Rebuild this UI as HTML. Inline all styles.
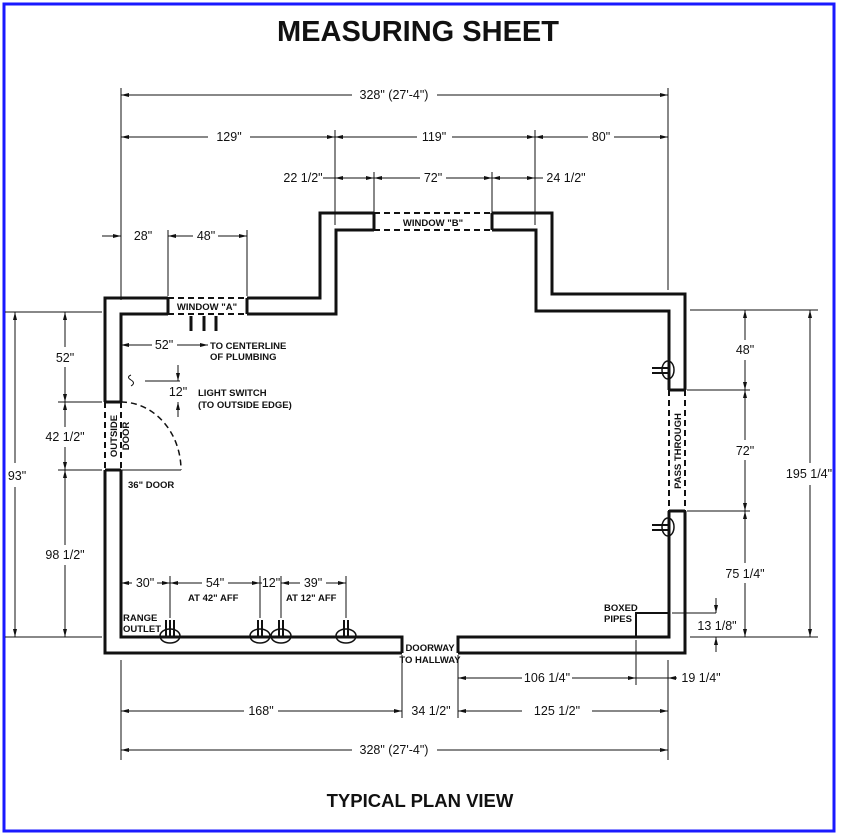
<!DOCTYPE html>
<html><head><style>
html,body{margin:0;padding:0;background:#fff;}
svg{display:block;}
text{font-family:"Liberation Sans",sans-serif;fill:#111;}
</style></head><body>
<svg width="844" height="837" viewBox="0 0 844 837" xmlns="http://www.w3.org/2000/svg">
<defs>
<marker id="a" markerWidth="8" markerHeight="6" refX="8" refY="3" orient="auto-start-reverse" markerUnits="userSpaceOnUse"><path d="M0,1 L8,3 L0,5 z" fill="#111"/></marker>
</defs>
<rect x="4" y="4" width="830" height="827" fill="none" stroke="#1a1aff" stroke-width="3"/>
<text x="418" y="41" font-size="29" font-weight="bold" text-anchor="middle">MEASURING SHEET</text>
<text x="420" y="807" font-size="18.5" font-weight="bold" text-anchor="middle">TYPICAL PLAN VIEW</text>

<g stroke="#111" stroke-width="3" fill="none">
<polyline points="168,298 105,298 105,402"/>
<polyline points="105,470 105,653 402,653"/>
<polyline points="247,298 320,298 320,213 374,213"/>
<polyline points="492,213 552,213 552,294 685,294 685,390"/>
<polyline points="685,511 685,653 458,653"/>
<polyline points="168,314 121,314 121,402"/>
<polyline points="121,470 121,637 402,637 402,653"/>
<polyline points="247,314 336,314 336,230 374,230"/>
<polyline points="492,230 536,230 536,311 669,311 669,390"/>
<polyline points="669,511 669,637 458,637 458,653"/>
<line x1="168" y1="298" x2="168" y2="314"/><line x1="247" y1="298" x2="247" y2="314"/>
<line x1="374" y1="213" x2="374" y2="230"/><line x1="492" y1="213" x2="492" y2="230"/>
<line x1="105" y1="402" x2="121" y2="402"/><line x1="105" y1="470" x2="121" y2="470"/>
<line x1="669" y1="390" x2="685" y2="390"/><line x1="669" y1="511" x2="685" y2="511"/>
</g>
<g stroke="#111" stroke-width="2" fill="none" stroke-dasharray="6,4">
<line x1="168" y1="298" x2="247" y2="298"/><line x1="168" y1="314" x2="247" y2="314"/>
<line x1="374" y1="213" x2="492" y2="213"/><line x1="374" y1="230" x2="492" y2="230"/>
<line x1="105" y1="402" x2="105" y2="470"/><line x1="121" y1="402" x2="121" y2="470"/>
<line x1="669" y1="390" x2="669" y2="511"/><line x1="685" y1="390" x2="685" y2="511"/>
<path d="M121,402 A60,68 0 0 1 181,470" stroke-width="1.5"/>
</g>
<line x1="121" y1="470" x2="181" y2="470" stroke="#111" stroke-width="1"/>
<polyline points="636,637 636,613 669,613" stroke="#111" stroke-width="2" fill="none"/>

<g stroke="#111" stroke-width="3">
<line x1="191" y1="316" x2="191" y2="331"/><line x1="204" y1="316" x2="204" y2="331"/><line x1="216" y1="316" x2="216" y2="331"/>
</g>
<g stroke="#111" stroke-width="1.5" fill="none">
<ellipse cx="170" cy="636" rx="10" ry="7"/><ellipse cx="260" cy="636" rx="10" ry="7"/><ellipse cx="281" cy="636" rx="10" ry="7"/><ellipse cx="346" cy="636" rx="10" ry="7"/>
<ellipse cx="668" cy="370" rx="6" ry="9"/><ellipse cx="668" cy="527" rx="6" ry="9"/>
</g>
<g stroke="#111" stroke-width="2">
<line x1="166" y1="620" x2="166" y2="638"/><line x1="170" y1="620" x2="170" y2="638"/><line x1="174" y1="620" x2="174" y2="638"/>
<line x1="258" y1="620" x2="258" y2="638"/><line x1="262" y1="620" x2="262" y2="638"/>
<line x1="279" y1="620" x2="279" y2="638"/><line x1="283" y1="620" x2="283" y2="638"/>
<line x1="344" y1="620" x2="344" y2="638"/><line x1="348" y1="620" x2="348" y2="638"/>
<line x1="652" y1="368" x2="669" y2="368"/><line x1="652" y1="373" x2="669" y2="373"/>
<line x1="652" y1="525" x2="669" y2="525"/><line x1="652" y1="530" x2="669" y2="530"/>
</g>

<g stroke="#111" stroke-width="1" fill="none">
<line x1="121" y1="88" x2="121" y2="300"/><line x1="668" y1="88" x2="668" y2="290"/>
<line x1="335" y1="130" x2="335" y2="225"/><line x1="535" y1="130" x2="535" y2="225"/>
<line x1="374" y1="172" x2="374" y2="228"/><line x1="492" y1="172" x2="492" y2="228"/>
<line x1="168" y1="230" x2="168" y2="296"/><line x1="247" y1="230" x2="247" y2="296"/>
<line x1="121" y1="660" x2="121" y2="760"/><line x1="668" y1="660" x2="668" y2="760"/>
<line x1="402" y1="655" x2="402" y2="718"/><line x1="458" y1="655" x2="458" y2="718"/>
<line x1="636" y1="640" x2="636" y2="685"/>
<line x1="5" y1="312" x2="102" y2="312"/><line x1="5" y1="637" x2="102" y2="637"/>
<line x1="58" y1="402" x2="102" y2="402"/><line x1="58" y1="470" x2="102" y2="470"/>
<line x1="690" y1="310" x2="818" y2="310"/><line x1="690" y1="637" x2="818" y2="637"/>
<line x1="687" y1="390" x2="750" y2="390"/><line x1="687" y1="511" x2="750" y2="511"/>
<line x1="672" y1="613" x2="716" y2="613"/>
<line x1="170" y1="576" x2="170" y2="618"/><line x1="260" y1="576" x2="260" y2="618"/><line x1="281" y1="576" x2="281" y2="618"/><line x1="346" y1="576" x2="346" y2="618"/>

<line x1="121" y1="95" x2="352" y2="95" marker-start="url(#a)"/><line x1="437" y1="95" x2="668" y2="95" marker-end="url(#a)"/>
<line x1="121" y1="137" x2="208" y2="137" marker-start="url(#a)"/><line x1="250" y1="137" x2="335" y2="137" marker-end="url(#a)"/>
<line x1="335" y1="137" x2="417" y2="137" marker-start="url(#a)"/><line x1="452" y1="137" x2="535" y2="137" marker-end="url(#a)"/>
<line x1="535" y1="137" x2="588" y2="137" marker-start="url(#a)"/><line x1="614" y1="137" x2="668" y2="137" marker-end="url(#a)"/>
<line x1="323" y1="178" x2="335" y2="178"/><line x1="335" y1="178" x2="374" y2="178" marker-start="url(#a)" marker-end="url(#a)"/>
<line x1="374" y1="178" x2="420" y2="178" marker-start="url(#a)"/><line x1="446" y1="178" x2="492" y2="178" marker-end="url(#a)"/>
<line x1="492" y1="178" x2="535" y2="178" marker-start="url(#a)" marker-end="url(#a)"/><line x1="535" y1="178" x2="543" y2="178"/>
<line x1="102" y1="236" x2="121" y2="236" marker-end="url(#a)"/>
<line x1="168" y1="236" x2="193" y2="236" marker-start="url(#a)"/><line x1="218" y1="236" x2="247" y2="236" marker-end="url(#a)"/>
<line x1="121" y1="345" x2="152" y2="345" marker-start="url(#a)"/><line x1="177" y1="345" x2="208" y2="345" marker-end="url(#a)"/>
<line x1="145" y1="381" x2="180" y2="381"/>
<line x1="178" y1="365" x2="178" y2="381" marker-end="url(#a)"/><line x1="178" y1="417" x2="178" y2="402" marker-end="url(#a)"/>
<line x1="121" y1="583" x2="132" y2="583" marker-start="url(#a)"/><line x1="157" y1="583" x2="170" y2="583" marker-end="url(#a)"/>
<line x1="170" y1="583" x2="202" y2="583" marker-start="url(#a)"/><line x1="228" y1="583" x2="260" y2="583" marker-end="url(#a)"/>
<line x1="260" y1="583" x2="262" y2="583"/><line x1="281" y1="583" x2="300" y2="583" marker-start="url(#a)"/><line x1="326" y1="583" x2="346" y2="583" marker-end="url(#a)"/>
<line x1="458" y1="678" x2="522" y2="678" marker-start="url(#a)"/><line x1="572" y1="678" x2="636" y2="678" marker-end="url(#a)"/>
<line x1="668" y1="678" x2="677" y2="678" marker-start="url(#a)"/><line x1="636" y1="678" x2="668" y2="678"/>
<line x1="121" y1="711" x2="244" y2="711" marker-start="url(#a)"/><line x1="278" y1="711" x2="402" y2="711" marker-end="url(#a)"/>
<line x1="458" y1="711" x2="522" y2="711" marker-start="url(#a)"/><line x1="592" y1="711" x2="668" y2="711" marker-end="url(#a)"/>
<line x1="121" y1="750" x2="352" y2="750" marker-start="url(#a)"/><line x1="437" y1="750" x2="668" y2="750" marker-end="url(#a)"/>

<line x1="15" y1="312" x2="15" y2="463" marker-start="url(#a)"/><line x1="15" y1="487" x2="15" y2="637" marker-end="url(#a)"/>
<line x1="65" y1="312" x2="65" y2="347" marker-start="url(#a)"/><line x1="65" y1="367" x2="65" y2="402" marker-end="url(#a)"/>
<line x1="65" y1="402" x2="65" y2="427" marker-start="url(#a)"/><line x1="65" y1="447" x2="65" y2="470" marker-end="url(#a)"/>
<line x1="65" y1="470" x2="65" y2="545" marker-start="url(#a)"/><line x1="65" y1="565" x2="65" y2="637" marker-end="url(#a)"/>
<line x1="745" y1="310" x2="745" y2="340" marker-start="url(#a)"/><line x1="745" y1="360" x2="745" y2="390" marker-end="url(#a)"/>
<line x1="745" y1="390" x2="745" y2="440" marker-start="url(#a)"/><line x1="745" y1="460" x2="745" y2="511" marker-end="url(#a)"/>
<line x1="745" y1="511" x2="745" y2="563" marker-start="url(#a)"/><line x1="745" y1="583" x2="745" y2="637" marker-end="url(#a)"/>
<line x1="810" y1="310" x2="810" y2="463" marker-start="url(#a)"/><line x1="810" y1="485" x2="810" y2="637" marker-end="url(#a)"/>
<line x1="716" y1="598" x2="716" y2="613" marker-end="url(#a)"/><line x1="716" y1="652" x2="716" y2="637" marker-end="url(#a)"/>
</g>
<path d="M131,375 q-5,2 0,5 q5,3 0,6" stroke="#111" fill="none" stroke-width="1"/>

<g font-size="12.5" text-anchor="middle">
<text x="394" y="99">328" (27'-4")</text>
<text x="229" y="141">129"</text>
<text x="434" y="141">119"</text>
<text x="601" y="141">80"</text>
<text x="303" y="182">22 1/2"</text>
<text x="433" y="182">72"</text>
<text x="566" y="182">24 1/2"</text>
<text x="143" y="240">28"</text>
<text x="206" y="240">48"</text>
<text x="164" y="349">52"</text>
<text x="178" y="396">12"</text>
<text x="65" y="362">52"</text>
<text x="65" y="441">42 1/2"</text>
<text x="65" y="559">98 1/2"</text>
<text x="17" y="480">93"</text>
<text x="745" y="354">48"</text>
<text x="745" y="455">72"</text>
<text x="745" y="578">75 1/4"</text>
<text x="809" y="478">195 1/4"</text>
<text x="717" y="630">13 1/8"</text>
<text x="145" y="587">30"</text>
<text x="215" y="587">54"</text>
<text x="271" y="587">12"</text>
<text x="313" y="587">39"</text>
<text x="547" y="682">106 1/4"</text>
<text x="701" y="682">19 1/4"</text>
<text x="261" y="715">168"</text>
<text x="431" y="715">34 1/2"</text>
<text x="557" y="715">125 1/2"</text>
<text x="394" y="754">328" (27'-4")</text>
</g>
<g font-size="9.5" font-weight="bold">
<text x="207" y="310" text-anchor="middle">WINDOW "A"</text>
<text x="433" y="226" text-anchor="middle">WINDOW "B"</text>
<text x="210" y="349">TO CENTERLINE</text>
<text x="210" y="360">OF PLUMBING</text>
<text x="198" y="396">LIGHT SWITCH</text>
<text x="198" y="408">(TO OUTSIDE EDGE)</text>
<text x="128" y="488">36" DOOR</text>
<text x="188" y="601">AT 42" AFF</text>
<text x="286" y="601">AT 12" AFF</text>
<text x="123" y="621">RANGE</text>
<text x="123" y="632">OUTLET</text>
<text x="604" y="611">BOXED</text>
<text x="604" y="622">PIPES</text>
<text x="430" y="651" text-anchor="middle">DOORWAY</text>
<text x="430" y="663" text-anchor="middle">TO HALLWAY</text>
<text transform="translate(117,436) rotate(-90)" text-anchor="middle">OUTSIDE</text>
<text transform="translate(129,436) rotate(-90)" text-anchor="middle">DOOR</text>
<text transform="translate(681,451) rotate(-90)" text-anchor="middle">PASS THROUGH</text>
</g>
</svg>
</body></html>
